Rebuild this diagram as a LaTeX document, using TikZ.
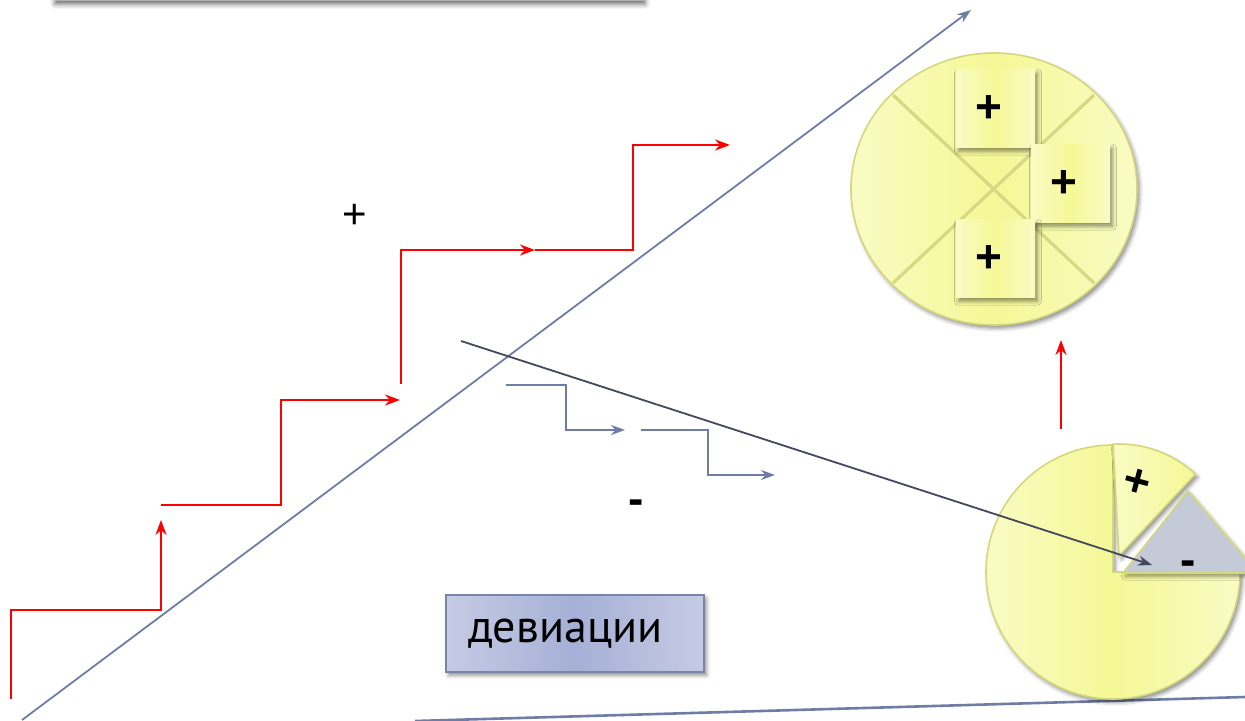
\documentclass[tikz,border=0pt]{standalone}
\usepackage{fontspec}
\setmainfont{PT Sans}
\newfontfamily\signfont{Liberation Sans}
\usetikzlibrary{arrows.meta,shadows.blur}

\definecolor{stepred}{RGB}{255,0,0}
\definecolor{axisblue}{RGB}{111,125,165}
\definecolor{darkarrow}{RGB}{68,72,92}
\definecolor{pieyellow}{RGB}{245,248,150}
\definecolor{pielight}{RGB}{249,251,196}
\definecolor{pieedge}{RGB}{212,216,122}
\definecolor{crossline}{RGB}{214,217,132}
\definecolor{minusgray}{RGB}{197,202,216}
\definecolor{boxlight}{RGB}{198,203,228}
\definecolor{boxmid}{RGB}{166,176,214}
\definecolor{boxedge}{RGB}{120,132,168}

\begin{document}
\begin{tikzpicture}[x=0.5pt,y=-0.5pt,
  redstep/.style={draw=stepred,line width=1.1pt},
  redtip/.style={-{Stealth[length=7.5pt,width=5.5pt]}},
  bluestep/.style={draw=axisblue,line width=1pt},
  bluetip/.style={-{Stealth[length=7pt,width=5pt]}},
  axisline/.style={draw=axisblue,line width=0.9pt},
  softshadow/.style={blur shadow={shadow xshift=1.2pt,shadow yshift=-1.6pt,shadow opacity=45,shadow blur radius=2pt}},
  sign/.style={font=\signfont\fontsize{21}{21}\selectfont},
  boldsign/.style={font=\signfont\bfseries\fontsize{23}{23}\selectfont},
  note/.style={shade,left color=pielight,right color=pielight,middle color=pieyellow,
    minimum width=39.5pt,minimum height=39pt,inner sep=0pt,softshadow},
  devbox/.style={shade,left color=boxlight,right color=boxlight,middle color=boxmid,
    draw=boxedge,line width=0.8pt,minimum height=38.5pt,text width=107pt,
    inner xsep=11pt,align=left,font=\fontsize{23}{27}\selectfont,softshadow},
]
\useasboundingbox (0,0) rectangle (1245,721);

% bar at the top edge, only its lower rim shows
\node[fill=gray!60,minimum width=295pt,minimum height=20pt,inner sep=0pt,
  blur shadow={shadow xshift=0pt,shadow yshift=-1.5pt,shadow opacity=60,shadow blur radius=2.5pt}]
  (topbar) at (350,-19) {};

% axes
\coordinate (a0) at (22,720);
\coordinate (a1) at (971,10);
\draw[axisline,-{Stealth[length=7pt,width=5pt]}] (a0) -- (a1);
\coordinate (b0) at (415,721);
\coordinate (b1) at (1245,697);
\draw[draw=axisblue,line width=1.3pt] (b0) -- (b1);

% red staircase going up
\coordinate (r0) at (11,699);
\coordinate (r1) at (11,610);
\coordinate (r2) at (161,610);
\coordinate (r3) at (161,520);
\draw[redstep,redtip] (r0) -- (r1) -- (r2) -- (r3);
\coordinate (r4) at (161,505);
\coordinate (r5) at (281,505);
\coordinate (r6) at (281,400);
\coordinate (r7) at (400,400);
\draw[redstep,redtip] (r4) -- (r5) -- (r6) -- (r7);
\coordinate (r8) at (401,384);
\coordinate (r9) at (401,250);
\coordinate (r10) at (535,250);
\draw[redstep,redtip] (r8) -- (r9) -- (r10);
\coordinate (r11) at (633,250);
\coordinate (r12) at (633,145);
\coordinate (r13) at (730,145);
\draw[redstep,redtip] (r10) -- (r11) -- (r12) -- (r13);

% blue staircase going down
\coordinate (s0) at (506,385);
\coordinate (s1) at (566,385);
\coordinate (s2) at (566,430);
\coordinate (s3) at (625,430);
\draw[bluestep,bluetip] (s0) -- (s1) -- (s2) -- (s3);
\coordinate (s4) at (641,430);
\coordinate (s5) at (708,430);
\coordinate (s6) at (708,475);
\coordinate (s7) at (775,475);
\draw[bluestep,bluetip] (s4) -- (s5) -- (s6) -- (s7);

% signs
\node[sign] (plus) at (355,216) {+};
\node[boldsign] (minus) at (636,507) {-};

% full circle with three notes
\path[shade,left color=pielight,right color=pielight,middle color=pieyellow,
  draw=pieedge,line width=0.8pt,softshadow] (994,189) ellipse [x radius=143,y radius=136];
\draw[crossline,line width=1.6pt] (893,95) -- (1094,283);
\draw[crossline,line width=1.6pt] (1094,95) -- (893,283);
\node[note,label={[boldsign,xshift=-3.5pt]center:+}] (n1) at (995.5,109) {};
\node[note,label={[boldsign,xshift=-3.5pt]center:+}] (n2) at (1070.5,184) {};
\node[note,label={[boldsign,xshift=-3.5pt]center:+}] (n3) at (995.5,259) {};

% arrow from the pie up to the circle
\coordinate (u0) at (1061,429);
\coordinate (u1) at (1061,340);
\draw[redstep,redtip] (u0) -- (u1);

% pie with a cut-out slice
\path[shade,left color=pielight,right color=pielight,middle color=pieyellow,
  draw=pieedge,line width=0.8pt,softshadow]
  (1113,572) -- (1113,445) arc[start angle=270,end angle=0,radius=127] -- cycle;
\path[shade,left color=pielight,right color=pieyellow,
  draw=pieedge,line width=0.8pt,softshadow]
  (1119,556) -- ++(267:112) arc[start angle=267,end angle=313,radius=112] -- cycle;
\path[fill=minusgray,draw=pieedge,line width=0.8pt,softshadow]
  (1123,573) -- (1188,491) -- (1258,573) -- cycle;
\node[boldsign,rotate=-15] (wplus) at (1137,483) {+};
\node[boldsign] (wminus) at (1188,568) {-};

% arrow across to the pie
\coordinate (d0) at (461,341);
\coordinate (d1) at (1152,565);
\draw[draw=darkarrow,line width=0.9pt,-{Stealth[length=7pt,width=5pt]}] (d0) -- (d1);

% label box
\node[devbox] (dev) at (575,633.5) {девиации};
\end{tikzpicture}
\end{document}
